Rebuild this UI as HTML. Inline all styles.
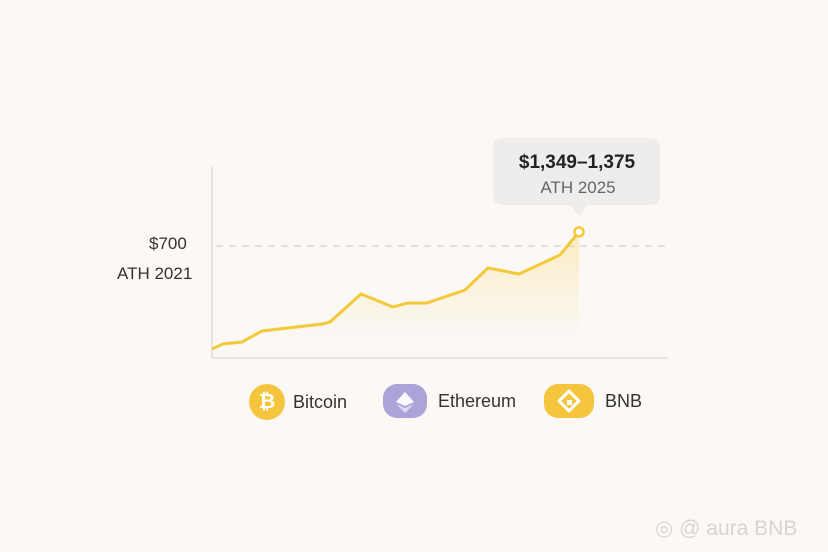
<!DOCTYPE html>
<html><head><meta charset="utf-8"><style>
body{margin:0;width:828px;height:552px;background:#fbf8f6;font-family:"Liberation Sans",sans-serif;overflow:hidden;position:relative}
.t{position:absolute;color:#333}
</style></head><body>
<svg width="828" height="552" style="position:absolute;left:0;top:0">
<defs><linearGradient id="g" gradientUnits="userSpaceOnUse" x1="0" y1="232" x2="0" y2="340"><stop offset="0" stop-color="#f7d24a" stop-opacity="0.3"/><stop offset="1" stop-color="#f7d24a" stop-opacity="0"/></linearGradient></defs>
<line x1="212" y1="167" x2="212" y2="358" stroke="#ddd" stroke-width="1.5"/>
<line x1="212" y1="358" x2="668" y2="358" stroke="#ddd" stroke-width="1.5"/>
<line x1="216" y1="246" x2="668" y2="246" stroke="#d6d2cf" stroke-width="1.3" stroke-dasharray="7,6"/>
<path id="area" fill="url(#g)"/>
<path id="line" fill="none" stroke="#f3c93a" stroke-width="3" stroke-linejoin="round"/>
<circle id="pt" r="4.5" fill="#fff" stroke="#f3c93a" stroke-width="2.5"/>
<path d="M493,148 Q493,138 503,138 L650,138 Q660,138 660,148 L660,195 Q660,205 650,205 L588,205 L579,216 L570,205 L503,205 Q493,205 493,195 Z" fill="#efedeb"/>
<text x="577" y="168" text-anchor="middle" font-size="19" font-weight="bold" fill="#222" font-family="Liberation Sans">$1,349–1,375</text>
<text x="578" y="193" text-anchor="middle" font-size="17" fill="#666" font-family="Liberation Sans">ATH 2025</text>
</svg>
<div class="t" style="left:149px;top:234px;font-size:17px">$700</div>
<div class="t" style="left:117px;top:264px;font-size:17px">ATH 2021</div>
<div style="position:absolute;left:249px;top:384px;display:flex;align-items:center">
<div style="width:36px;height:36px;border-radius:50%;background:#f4c53d;color:#fff;font-weight:bold;font-size:20px;text-align:center;line-height:36px">₿</div>
<span style="margin-left:8px;font-size:18px;color:#333">Bitcoin</span></div>
<div style="position:absolute;left:383px;top:384px;display:flex;align-items:center">
<div style="width:44px;height:34px;border-radius:14px;background:#aca3d8;position:relative"><svg width="44" height="34"><polygon points="22,8 31,18 22,22 13,18" fill="#fff" opacity=".95"/><polygon points="13,20 22,24 31,20 22,29" fill="#fff" opacity=".6"/></svg></div>
<span style="margin-left:11px;font-size:18px;color:#333">Ethereum</span></div>
<div style="position:absolute;left:544px;top:384px;display:flex;align-items:center">
<div style="width:50px;height:34px;border-radius:14px;background:#f4c53d"><svg width="50" height="34"><rect x="18" y="10" width="14" height="14" transform="rotate(45 25 17)" fill="none" stroke="#fff" stroke-width="3"/><rect x="23" y="16" width="5" height="5" fill="#fff"/></svg></div>
<span style="margin-left:11px;font-size:18px;color:#333">BNB</span></div>
<div class="t" style="left:655px;top:516px;font-size:21px;color:#d8d4d0">◎ @ aura BNB</div>
<script>
const days=[0,11,30,50,111,118,149,181,196,215,253,276,307,348,367];
const prices=[56,88,100,169,213,225,400,319,344,344,425,563,525,644,788];
const xs=d=>212+d, ys=v=>358-v/6.25;
let d='';prices.forEach((v,i)=>{d+=(i?'L':'M')+xs(days[i])+','+ys(v)});
document.getElementById('line').setAttribute('d',d);
const n=days.length-1;
document.getElementById('area').setAttribute('d',d+'L'+xs(days[n])+',356L'+xs(0)+',356Z');
const c=document.getElementById('pt');c.setAttribute('cx',xs(days[n]));c.setAttribute('cy',ys(prices[n]));
</script>
</body></html>
